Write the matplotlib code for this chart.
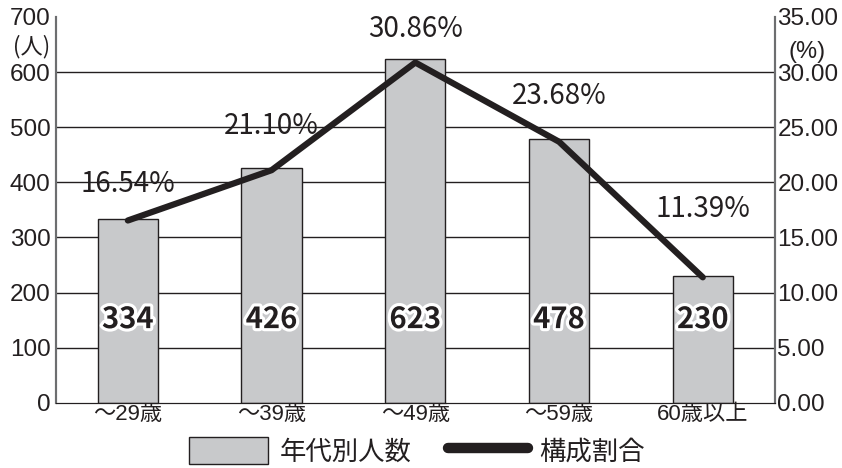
import matplotlib.pyplot as plt
import matplotlib.patheffects as pe
from matplotlib.patches import Patch
from matplotlib.lines import Line2D

plt.rcParams['font.family'] = ['Liberation Sans', 'Noto Sans CJK JP']

ages = ['～29歳', '～39歳', '～49歳', '～59歳', '60歳以上']
counts = [334, 426, 623, 478, 230]
shares = [16.54, 21.10, 30.86, 23.68, 11.39]
left_ticks = [0, 100, 200, 300, 400, 500, 600, 700]
right_ticks = [0, 5, 10, 15, 20, 25, 30, 35]

ink = '#231f20'
bar_grey = '#c8c9cb'
spine_grey = '#6d6e70'
cjk = ['Noto Sans CJK JP', 'DejaVu Sans']

fig = plt.figure(figsize=(8.42, 4.68), dpi=100)
ax = fig.add_axes([0.0665, 0.139, 0.8535, 0.825])
ax2 = ax.twinx()
ax2.set_zorder(ax.get_zorder() + 1)
ax2.patch.set_visible(False)

x = range(len(ages))
for v in left_ticks[1:-1]:
    ax.axhline(v, color=ink, lw=1.0, zorder=0)
ax.bar(x, counts, width=0.42, color=bar_grey, edgecolor=ink, linewidth=1.0, zorder=2)
ax.set_xlim(-0.5, len(ages) - 0.5)
ax.set_ylim(0, 700)
ax.set_yticks(left_ticks)
ax.set_xticks(list(x))
ax.set_xticklabels(ages)

white_edge = [pe.withStroke(linewidth=4.5, foreground='white')]
for i, c in enumerate(counts):
    ax.text(i, 152, str(c), ha='center', va='center', fontsize=21, weight='bold',
            family=cjk, color=ink, path_effects=white_edge, zorder=4)

ax2.plot(x, shares, color=ink, lw=4.5, solid_capstyle='round', zorder=3)
ax2.set_ylim(0, 35)
ax2.set_yticks(right_ticks)
ax2.set_yticklabels(['%.2f' % t for t in right_ticks])

# label lift above each point, in pixels
lifts = [36, 44, 34, 46, 68]
for i, s in enumerate(shares):
    ax2.annotate('%.2f%%' % s, (i, s), xytext=(0, lifts[i] * 0.72), textcoords='offset points',
                 ha='center', va='center', fontsize=20, family=cjk, color=ink, zorder=5)

for a in (ax, ax2):
    a.spines['top'].set_visible(False)
    a.spines['left'].set_color(spine_grey)
    a.spines['right'].set_color(spine_grey)
    a.spines['bottom'].set_color(ink)
    a.spines['left'].set_linewidth(1.5)
    a.spines['right'].set_linewidth(1.5)
    a.tick_params(length=0, labelsize=17.5, colors=ink)
ax.tick_params(axis='y', pad=4)
ax.tick_params(axis='x', pad=1, labelsize=16)
ax2.tick_params(axis='y', pad=2)

fig.text(0.037, 1 - 47 / 468, '(人)', ha='center', va='center', fontsize=16, family=cjk, color=ink)
fig.text(0.958, 1 - 52 / 468, '(%)', ha='center', va='center', fontsize=17, color=ink)

handles = [Patch(facecolor=bar_grey, edgecolor=ink, linewidth=1.0),
           Line2D([0], [0], color=ink, lw=7.5, solid_capstyle='round')]
fig.legend(handles, ['年代別人数', '構成割合'], loc='lower center', bbox_to_anchor=(0.495, -0.045),
           ncol=2, frameon=False, fontsize=19, handlelength=3.0, handleheight=1.2,
           columnspacing=1.4, handletextpad=0.45, labelcolor=ink, prop={'family': cjk, 'size': 19})

fig.savefig('out.png', dpi=100)
